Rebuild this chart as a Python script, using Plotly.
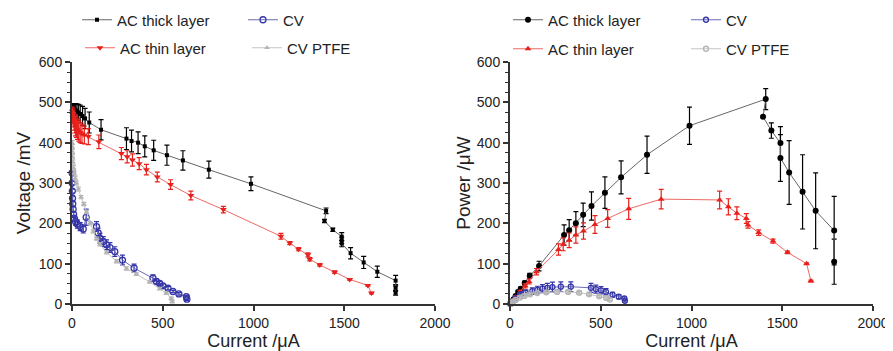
import plotly.graph_objects as go

# ---------------- Left plot: Voltage vs Current ----------------
thick_I = [1, 3, 6, 10, 15, 20, 27, 35, 45, 58, 72, 95, 160, 300, 328, 364, 401, 450, 523, 611, 754, 986,
           1400, 1391, 1437, 1486, 1486, 1486, 1535, 1607, 1682, 1783, 1783, 1783]
thick_V = [490, 488, 486, 484, 482, 480, 478, 475, 471, 466, 460, 450, 432, 410, 404, 400, 391, 381, 369, 356, 333, 298,
           231, 206, 184, 167, 158, 150, 126, 103, 80, 58, 40, 28]
thick_V_err = [6, 8, 10, 12, 14, 16, 18, 20, 22, 24, 25, 26, 25, 27, 27, 27, 26, 25, 25, 24, 21, 17,
               7, 4, 4, 10, 8, 8, 14, 15, 14, 13, 8, 6]

thin_I = [1, 3, 5, 8, 11, 15, 19, 24, 30, 37, 45, 55, 68, 90, 148, 272, 304, 333, 370, 410, 470, 543, 655, 834,
          1151, 1200, 1248, 1300, 1310, 1365, 1447, 1530, 1630, 1650]
thin_V = [478, 470, 463, 457, 451, 446, 441, 437, 433, 429, 425, 422, 419, 415, 402, 373, 365, 357, 348, 333, 315, 296, 269, 234,
          168, 151, 136, 122, 111, 97, 79, 61, 46, 27]
thin_V_err = [10, 14, 16, 18, 20, 22, 24, 24, 25, 25, 25, 24, 22, 20, 17, 15, 15, 15, 15, 13, 12, 12, 11, 8,
              7, 4, 4, 5, 4, 3, 3, 2, 2, 2]

cv_I = [0.5, 1, 2, 3, 4, 6, 9, 13, 20, 30, 45, 62, 78, 135, 144, 154, 172, 190, 209, 236, 278, 342, 446, 465, 483, 501,
        529, 556, 589, 630, 633]
cv_V = [325, 300, 280, 262, 248, 235, 222, 212, 204, 198, 192, 186, 215, 192, 176, 163, 155, 147, 140, 130, 109, 89, 64, 56,
        51, 45, 39, 31, 25, 18, 12]
cv_V_err = [3, 4, 5, 6, 6, 7, 8, 8, 9, 10, 10, 10, 20, 12, 12, 12, 12, 12, 12, 12, 12, 10, 8, 6, 5, 5, 4, 3, 3, 3, 3]

ptfe_I = [0.5, 1, 2, 3, 5, 8, 12, 18, 25, 35, 50, 65, 80, 99, 117, 135, 154, 190, 245, 300, 355, 428, 483, 520, 547, 552]
ptfe_V = [400, 390, 378, 365, 352, 338, 325, 312, 300, 285, 265, 248, 228, 200, 180, 162, 148, 128, 106, 88, 74, 55, 38, 27,
          14, 6]
ptfe_V_err = [5] * 10 + [4] * 10 + [3] * 6

# ---------------- Right plot: Power vs Current ----------------
thickP_I = [1, 5, 12, 20, 31, 45, 59, 81, 109, 160, 298, 326, 363, 403, 449, 523, 612, 755, 989,
            1409, 1394, 1440, 1490, 1490, 1538, 1612, 1684, 1786, 1786]
thickP_P = [0.5, 3, 7, 12, 20, 30, 38, 52, 70, 94, 171, 183, 200, 221, 243, 276, 314, 370, 442,
            508, 464, 430, 399, 362, 326, 278, 231, 182, 105]
thickP_err = [0, 1, 2, 3, 3, 4, 4, 5, 6, 12, 25, 26, 29, 29, 35, 39, 41, 46, 46,
              26, 0, 19, 41, 58, 79, 92, 94, 85, 56]

thinP_I = [1, 5, 12, 20, 31, 55, 83, 105, 146, 267, 293, 326, 363, 405, 468, 538, 654, 833,
           1155, 1203, 1250, 1302, 1311, 1370, 1449, 1529, 1634, 1658]
thinP_P = [0.5, 3, 7, 11, 17, 30, 45, 56, 80, 135, 148, 158, 171, 181, 197, 212, 236, 260,
           258, 241, 225, 212, 196, 177, 156, 128, 100, 57]
thinP_err = [0, 1, 2, 2, 3, 4, 5, 6, 8, 14, 16, 18, 20, 20, 22, 22, 26, 24,
             22, 20, 16, 12, 8, 7, 5, 3, 2, 2]

cvP_I = [1, 5, 12, 31, 59, 87, 123, 151, 179, 206, 234, 280, 335, 446, 473, 501, 529, 565, 599, 630, 633]
cvP_P = [0.3, 1.5, 4, 14, 24, 28, 32, 35, 38, 40, 42, 43, 43, 40, 37, 34, 30, 23, 18, 14, 8]
cvP_err = [0, 1, 2, 4, 6, 7, 8, 9, 10, 11, 12, 12, 12, 11, 10, 9, 8, 6, 5, 4, 3]

ptfeP_I = [1, 5, 16, 31, 55, 80, 110, 150, 200, 260, 320, 381, 436, 492, 530, 550]
ptfeP_P = [0.3, 2, 6, 10, 16, 20, 24, 27, 29, 30, 30, 28, 24, 19, 15, 11]
ptfeP_err = [0, 1, 2, 2, 3, 3, 3, 3, 3, 3, 3, 3, 3, 3, 3, 3]

FONT = "Liberation Sans, Arial, sans-serif"
TXT = "#222222"

fig = go.Figure()


def add(x, y, err, name, xa, ya, mcolor, lcolor, symbol, size, legend, open_=False):
    marker = dict(color=mcolor, size=size, symbol=symbol)
    if open_:
        marker["line"] = dict(color=mcolor, width=1.3)
    fig.add_trace(go.Scatter(
        x=x, y=y, name=name, mode="lines+markers", xaxis=xa, yaxis=ya,
        line=dict(color=lcolor, width=1),
        marker=marker,
        error_y=dict(type="data", array=err, visible=True, color=mcolor, thickness=1.2, width=2.5),
        cliponaxis=False, legend=legend, showlegend=True,
    ))


# left
add(thick_I, thick_V, thick_V_err, "AC thick layer", "x", "y", "#000000", "#666666", "square", 4, "legend")
add(thin_I, thin_V, thin_V_err, "AC thin layer", "x", "y", "#e8201c", "#ec6a66", "triangle-down", 6, "legend2")
add(cv_I, cv_V, cv_V_err, "CV", "x", "y", "#3535a8", "#6a6ab8", "circle-open", 6, "legend3", True)
add(ptfe_I, ptfe_V, ptfe_V_err, "CV PTFE", "x", "y", "#b4b4b4", "#c4c4c4", "triangle-up", 5, "legend4")
# right
add(thickP_I, thickP_P, thickP_err, "AC thick layer", "x2", "y2", "#000000", "#666666", "circle", 6, "legend5")
add(thinP_I, thinP_P, thinP_err, "AC thin layer", "x2", "y2", "#e8201c", "#ec6a66", "triangle-up", 6, "legend6")
add(cvP_I, cvP_P, cvP_err, "CV", "x2", "y2", "#3535a8", "#6a6ab8", "circle-open", 5, "legend7", True)
add(ptfeP_I, ptfeP_P, ptfeP_err, "CV PTFE", "x2", "y2", "#b4b4b4", "#c4c4c4", "circle-open", 5, "legend8", True)

W, H = 893, 351
OFF = 8  # page body margin offset
ybot = (H - (304 - OFF)) / H
ytop = (H - (62 - OFF)) / H

axis_common = dict(
    showgrid=False, zeroline=False, showline=True, linecolor="#333333", linewidth=2,
    ticks="outside", ticklen=5, tickwidth=1.5, tickcolor="#333333",
    tickfont=dict(family=FONT, size=14, color=TXT),
)

xcommon = dict(axis_common, range=[0, 2000], tickvals=[0, 500, 1000, 1500, 2000])
ycommon = dict(axis_common, range=[0, 600], tickvals=[0, 100, 200, 300, 400, 500, 600],
               minor=dict(dtick=25, ticks="outside", ticklen=3, tickwidth=1, tickcolor="#333333"))


def leg(text_x, text_y):
    return dict(x=(text_x - 40 - OFF) / W, y=1 - (text_y - OFF) / H, xanchor="left", yanchor="middle",
                font=dict(family=FONT, size=15, color=TXT), bgcolor="rgba(0,0,0,0)",
                itemwidth=30, borderwidth=0)


fig.update_layout(
    width=W, height=H,
    margin=dict(l=0, r=0, t=0, b=0, autoexpand=False),
    paper_bgcolor="white", plot_bgcolor="white",
    showlegend=True,
    xaxis=dict(xcommon, domain=[(72 - OFF) / W, (435 - OFF) / W], anchor="y",
               title=dict(text="Current /μA", font=dict(family=FONT, size=18, color=TXT), standoff=0)),
    yaxis=dict(ycommon, domain=[ybot, ytop], anchor="x",
               title=dict(text="Voltage /mV", font=dict(family=FONT, size=19, color=TXT), standoff=3)),
    xaxis2=dict(xcommon, domain=[(510 - OFF) / W, (873 - OFF) / W], anchor="y2",
                title=dict(text="Current /μA", font=dict(family=FONT, size=18, color=TXT), standoff=0)),
    yaxis2=dict(ycommon, domain=[ybot, ytop], anchor="x2",
                title=dict(text="Power /μW", font=dict(family=FONT, size=19, color=TXT), standoff=1)),
    legend=leg(117, 20),
    legend2=leg(120, 48),
    legend3=leg(283, 20),
    legend4=leg(287, 48),
    legend5=leg(548, 20),
    legend6=leg(548, 49),
    legend7=leg(726, 20),
    legend8=leg(726, 49),
)

fig.write_html("out.html")
